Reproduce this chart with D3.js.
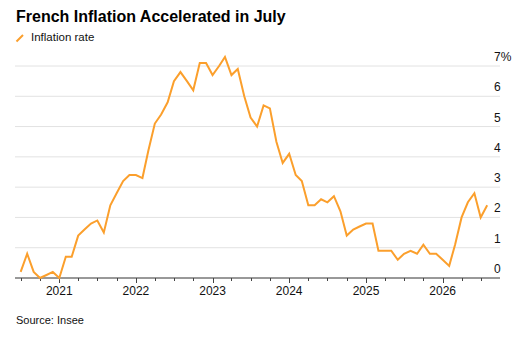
<!DOCTYPE html>
<html>
<head>
<meta charset="utf-8">
<script src="https://cdn.jsdelivr.net/npm/d3@7"></script>
<style>
  body { margin: 0; background: #fff; }
  svg { display: block; font-family: "Liberation Sans", Arial, Helvetica, sans-serif; }
</style>
</head>
<body>
<div id="chart"></div>
<script>
const width = 519
const height = 337
const line_colour = "#fb9f2c"

// monthly french inflation, first month and values
const start_month = "2020-06"
const inflation = [
	0.2, 0.8, 0.2, 0.0, 0.1, 0.2, 0.0, 0.7, 0.7, 1.4, 1.6, 1.8,
	1.9, 1.5, 2.4, 2.8, 3.2, 3.4, 3.4, 3.3, 4.2, 5.1, 5.4, 5.8,
	6.5, 6.8, 6.5, 6.2, 7.1, 7.1, 6.7, 7.0, 7.3, 6.7, 6.9, 6.0,
	5.3, 5.0, 5.7, 5.6, 4.5, 3.8, 4.1, 3.4, 3.2, 2.4, 2.4, 2.6,
	2.5, 2.7, 2.2, 1.4, 1.6, 1.7, 1.8, 1.8, 0.9, 0.9, 0.9, 0.6,
	0.8, 0.9, 0.8, 1.1, 0.8, 0.8, 0.6, 0.4, 1.1, 2.0, 2.5, 2.8,
	2.0, 2.4
]
const y_ticks = [0, 1, 2, 3, 4, 5, 6, 7]
const title = "French Inflation Accelerated in July"
const legend_label = "Inflation rate"
const source = "Source: Insee"

var parse = d3.timeParse("%Y-%m")
var first = parse(start_month)
// points are stamped at the end of each month
var data = inflation.map((v, i) => ({
	date: d3.timeMonth.offset(first, i + 1),
	value: v
}))

var svg = d3.select("#chart").append("svg")
	.attr("width", width)
	.attr("height", height)

var x = d3.scaleTime()
	.domain([new Date(2020, 5, 4), new Date(2026, 9, 1)])
	.range([15, 500])

var y = d3.scaleLinear()
	.domain([0, 7])
	.range([278, 66])

// title + legend
svg.append("text")
	.attr("x", 16)
	.attr("y", 22)
	.attr("font-size", "16px")
	.attr("font-weight", "bold")
	.attr("fill", "#000")
	.text(title)

svg.append("line")
	.attr("x1", 16.5).attr("y1", 41.5)
	.attr("x2", 23).attr("y2", 35)
	.attr("stroke", line_colour)
	.attr("stroke-width", 2)

svg.append("text")
	.attr("x", 31)
	.attr("y", 40.5)
	.attr("font-size", "11.5px")
	.attr("fill", "#111")
	.text(legend_label)

// gridlines
svg.selectAll(".gridline")
	.data(y_ticks.filter(d => d > 0))
	.enter().append("line")
	.attr("class", "gridline")
	.attr("x1", 15)
	.attr("x2", 500)
	.attr("y1", d => y(d))
	.attr("y2", d => y(d))
	.attr("stroke", "#e2e2e2")
	.attr("stroke-width", 1)

// y labels sit above the gridlines on the right
svg.selectAll(".ylabel")
	.data(y_ticks)
	.enter().append("text")
	.attr("class", "ylabel")
	.attr("x", 494)
	.attr("y", d => y(d) - 5)
	.attr("font-size", "12px")
	.attr("fill", "#111")
	.text(d => d == 7 ? d + "%" : d)

// x axis
var quarters = d3.timeMonth.every(3).range(new Date(2020, 6, 1), x.domain()[1])
var axis = svg.append("g")
	.attr("transform", `translate(0,${y(0)})`)

axis.append("line")
	.attr("x1", 15)
	.attr("x2", 500)
	.attr("stroke", "#333")
	.attr("stroke-width", 1)

axis.selectAll(".tick")
	.data(quarters)
	.enter().append("line")
	.attr("class", "tick")
	.attr("x1", d => Math.round(x(d)) + 0.5)
	.attr("x2", d => Math.round(x(d)) + 0.5)
	.attr("y1", 0)
	.attr("y2", d => d.getMonth() == 0 ? 5 : 3)
	.attr("stroke", "#444")
	.attr("stroke-width", 1)

axis.selectAll(".yearlabel")
	.data(quarters.filter(d => d.getMonth() == 0))
	.enter().append("text")
	.attr("class", "yearlabel")
	.attr("x", d => x(d))
	.attr("y", 17)
	.attr("text-anchor", "middle")
	.attr("font-size", "12px")
	.attr("fill", "#111")
	.text(d3.timeFormat("%Y"))

// the line
var line = d3.line()
	.x(d => x(d.date))
	.y(d => y(d.value))

svg.append("path")
	.datum(data)
	.attr("d", line)
	.attr("fill", "none")
	.attr("stroke", line_colour)
	.attr("stroke-width", 2)
	.attr("stroke-linejoin", "miter")

svg.append("text")
	.attr("x", 16)
	.attr("y", 324)
	.attr("font-size", "11px")
	.attr("fill", "#111")
	.text(source)
</script>
</body>
</html>
